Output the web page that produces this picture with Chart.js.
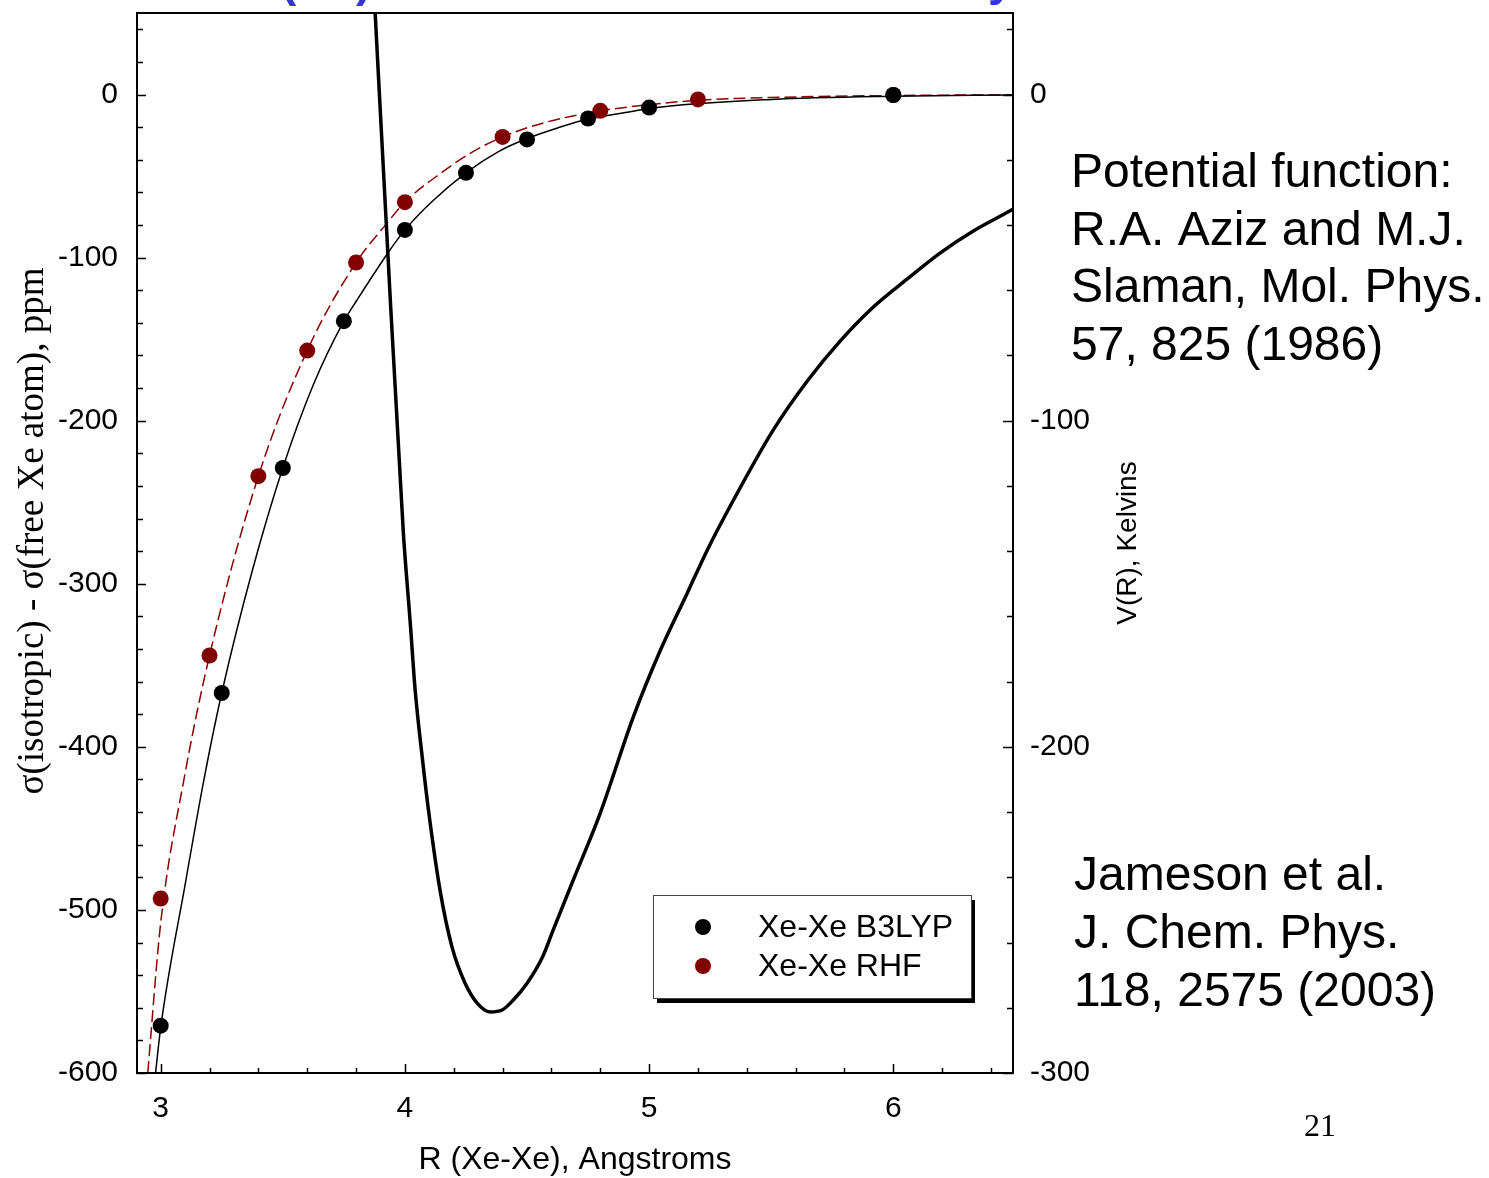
<!DOCTYPE html>
<html>
<head>
<meta charset="utf-8">
<script src="https://cdn.jsdelivr.net/npm/chart.js@4.4.0/dist/chart.umd.min.js"></script>
<style>
html,body{margin:0;padding:0;background:#fff;overflow:hidden}
#wrap{width:1489px;height:1178px;position:relative}
canvas{display:block}
</style>
</head>
<body>
<div id="wrap"><canvas id="c" width="1489" height="1178"></canvas></div>
<script>
// ---- data ----
const b3lypR     = [3.0, 3.25, 3.5, 3.75, 4.0, 4.25, 4.5, 4.75, 5.0, 6.0];
const b3lypShift = [-571, -367, -229, -139, -83, -48, -27.5, -14.7, -8, -0.3];

const rhfR     = [3.0, 3.2, 3.4, 3.6, 3.8, 4.0, 4.4, 4.8, 5.2, 6.0];
const rhfShift = [-493, -344, -234, -157, -103, -66, -26, -10, -3, -0.3];

// fitted curves
const b3lypFitR     = [2.979, 3.0, 3.103, 3.176, 3.25, 3.375, 3.5, 3.625, 3.75, 3.804, 3.931, 4.0, 4.108, 4.25, 4.383, 4.5, 4.629, 4.75, 4.929, 5.0, 5.5, 6.0, 6.49];
const b3lypFitShift = [-600, -572, -482, -421, -367, -292, -229, -178, -139, -126, -97, -83, -66, -48, -35, -27, -20.3, -15, -10.4, -8.5, -3, -1, -0.3];

const rhfFitR     = [2.947, 3.0, 3.094, 3.2, 3.4, 3.6, 3.8, 3.915, 4.0, 4.149, 4.272, 4.4, 4.572, 4.8, 4.929, 5.2, 5.6, 6.0, 6.49];
const rhfFitShift = [-600, -508, -421, -344, -234, -157, -103, -81, -66, -48, -35.6, -26, -17.2, -10, -7.4, -3.5, -1.5, -0.6, -0.2];

// Xe-Xe potential V(R), Kelvins (Aziz & Slaman)
const potR = [3.878, 3.923, 3.993, 4.022, 4.042, 4.071, 4.095, 4.144, 4.193, 4.246, 4.296, 4.349, 4.398, 4.443, 4.501, 4.563, 4.607, 4.689, 4.800, 4.935, 5.046, 5.156, 5.238, 5.345, 5.508, 5.647, 5.782, 5.917, 6.056, 6.191, 6.326, 6.49];
const potV = [25.2, -38.6, -133.6, -162.1, -182.6, -203.2, -218.5, -244.0, -261.4, -272.4, -278.6, -281.3, -280.7, -277.7, -272.4, -264.5, -256.2, -240.9, -220.3, -190.9, -170.4, -152.9, -139.7, -124.4, -102.9, -87.9, -75.6, -65.2, -56.6, -48.6, -41.9, -35.2];

// axis ticks
const xTicks  = [3, 4, 5, 6];
const yLTicks = [-600, -500, -400, -300, -200, -100, 0];
const yRTicks = [-300, -200, -100, 0];

const labels = {
  legend: ['Xe-Xe B3LYP', 'Xe-Xe RHF'],
  xTitle: 'R (Xe-Xe), Angstroms',
  yLTitle: 'σ(isotropic) - σ(free Xe atom), ppm',
  yRTitle: 'V(R), Kelvins',
  note1: ['Potential function:', 'R.A. Aziz and M.J.', 'Slaman, Mol. Phys.', '57, 825 (1986)'],
  note2: ['Jameson et al.', 'J. Chem. Phys.', '118, 2575 (2003)'],
  page: '21'
};

const RED = '#800000';
const pts = (xs, ys) => xs.map((x, i) => ({x: x, y: ys[i]}));

const SANS = '"Liberation Sans", Arial, sans-serif';
const SERIF = '"Liberation Serif", "Times New Roman", serif';

const decor = {
  id: 'decor',
  beforeDraw(chart) {
    const c = chart.ctx;
    c.save();
    c.fillStyle = '#fff';
    c.fillRect(0, 0, chart.width, chart.height);
    c.restore();
  },
  afterDatasetsDraw(chart) {
    const c = chart.ctx;
    const a = chart.chartArea;
    const sx = chart.scales.x, sl = chart.scales.yL, sr = chart.scales.yR;
    c.save();
    // frame
    c.strokeStyle = '#000';
    c.lineWidth = 2;
    c.strokeRect(a.left, a.top, a.right - a.left, a.bottom - a.top);
    // inward ticks
    c.lineWidth = 1.5;
    c.beginPath();
    for (let v = -600; v <= 40; v += 20) {
      const y = Math.round(sl.getPixelForValue(v)) + 0.5;
      const len = (v % 100 === 0) ? 9 : 6;
      c.moveTo(a.left, y); c.lineTo(a.left + len, y);
    }
    for (let v = -300; v <= 20; v += 20) {
      const y = Math.round(sr.getPixelForValue(v)) + 0.5;
      const len = (v % 100 === 0) ? 10 : 6;
      c.moveTo(a.right, y); c.lineTo(a.right - len, y);
    }
    for (let k = 0; k <= 17; k++) {
      const v = 3 + k * 0.2;
      const x = Math.round(sx.getPixelForValue(v)) + 0.5;
      const len = (k % 5 === 0) ? 9 : 5;
      c.moveTo(x, a.bottom); c.lineTo(x, a.bottom - len);
    }
    c.stroke();

    // axis titles
    c.fillStyle = '#000';
    c.textAlign = 'center';
    c.textBaseline = 'middle';
    c.font = '32px ' + SANS;
    c.fillText(labels.xTitle, (a.left + a.right) / 2, 1160);

    c.save();
    c.translate(33, 531);
    c.rotate(-Math.PI / 2);
    c.font = '37px ' + SERIF;
    c.fillText(labels.yLTitle, 0, 0);
    c.restore();

    c.save();
    c.translate(1128, 543);
    c.rotate(-Math.PI / 2);
    c.font = '28px ' + SANS;
    c.fillText(labels.yRTitle, 0, 0);
    c.restore();

    // notes
    c.textAlign = 'left';
    c.textBaseline = 'alphabetic';
    c.font = '48px ' + SANS;
    labels.note1.forEach((t, i) => c.fillText(t, 1071, 187 + i * 57.7));
    labels.note2.forEach((t, i) => c.fillText(t, 1074, 890 + i * 58));

    c.font = '32px ' + SERIF;
    c.fillText(labels.page, 1304, 1136);

    // cut-off heading fragments at the top
    c.fillStyle = '#3535d0';
    c.font = 'bold 46px ' + SANS;
    c.fillText('(', 281, -4);
    c.fillText(')', 356, -4);
    c.fillText('y', 988, -5);

    // legend box with shadow
    const L = 653, T = 895, W = 318, H = 103;
    c.fillStyle = '#000';
    c.fillRect(L + 4, T + 5, W, H);
    c.fillStyle = '#fff';
    c.fillRect(L, T, W, H);
    c.strokeStyle = '#444';
    c.lineWidth = 1;
    c.strokeRect(L + 0.5, T + 0.5, W, H);
    const ds = chart.data.datasets;
    [[0, 927], [1, 966]].forEach(([i, y]) => {
      c.fillStyle = ds[i].backgroundColor;
      c.beginPath();
      c.arc(703, y, 8, 0, Math.PI * 2);
      c.fill();
      c.fillStyle = '#000';
      c.font = '32px ' + SANS;
      c.textBaseline = 'middle';
      c.fillText(labels.legend[i], 758, y + 1);
    });
    c.restore();
  }
};

const noPadY = s => { s.paddingTop = 0; s.paddingBottom = 0; };

new Chart(document.getElementById('c'), {
  type: 'scatter',
  data: {
    datasets: [
      { label: labels.legend[0], data: pts(b3lypR, b3lypShift), yAxisID: 'yL',
        backgroundColor: '#000', borderColor: '#000', pointRadius: 8, pointBorderWidth: 0, showLine: false, order: 0 },
      { label: labels.legend[1], data: pts(rhfR, rhfShift), yAxisID: 'yL',
        backgroundColor: RED, borderColor: RED, pointRadius: 8, pointBorderWidth: 0, showLine: false, order: 0 },
      { label: 'B3LYP fit', data: pts(b3lypFitR, b3lypFitShift), yAxisID: 'yL',
        showLine: true, borderColor: '#000', borderWidth: 1.5, pointRadius: 0,
        cubicInterpolationMode: 'monotone', order: 3 },
      { label: 'RHF fit', data: pts(rhfFitR, rhfFitShift), yAxisID: 'yL',
        showLine: true, borderColor: '#8b0000', borderWidth: 1.5, borderDash: [12, 5], pointRadius: 0,
        cubicInterpolationMode: 'monotone', order: 3 },
      { label: 'V(R)', data: pts(potR, potV), yAxisID: 'yR',
        showLine: true, borderColor: '#000', borderWidth: 3.5, pointRadius: 0,
        cubicInterpolationMode: 'monotone', order: 1 }
    ]
  },
  options: {
    responsive: false,
    animation: false,
    devicePixelRatio: 1,
    layout: { padding: { top: 13, left: 0, right: 0, bottom: 0 } },
    plugins: { legend: { display: false }, tooltip: { enabled: false } },
    scales: {
      x: {
        type: 'linear', min: 2.903, max: 6.49,
        grid: { display: false, drawTicks: false }, border: { display: false },
        afterBuildTicks: s => { s.ticks = xTicks.map(v => ({value: v})); },
        ticks: { color: '#000', font: { family: SANS, size: 30 }, padding: 18, callback: v => String(v) },
        afterFit: s => { s.height = 105; s.paddingLeft = 0; s.paddingRight = 0; }
      },
      yL: {
        type: 'linear', position: 'left', min: -600, max: 50,
        grid: { display: false, drawTicks: false }, border: { display: false },
        afterBuildTicks: s => { s.ticks = yLTicks.map(v => ({value: v})); },
        ticks: { color: '#000', font: { family: SANS, size: 30 }, padding: 19, callback: v => String(v) },
        afterFit: s => { s.width = 137; noPadY(s); }
      },
      yR: {
        type: 'linear', position: 'right', min: -300, max: 25,
        grid: { display: false, drawTicks: false }, border: { display: false },
        afterBuildTicks: s => { s.ticks = yRTicks.map(v => ({value: v})); },
        ticks: { color: '#000', font: { family: SANS, size: 30 }, padding: 17, callback: v => String(v) },
        afterFit: s => { s.width = 476; noPadY(s); }
      }
    }
  },
  plugins: [decor]
});
</script>
</body>
</html>
